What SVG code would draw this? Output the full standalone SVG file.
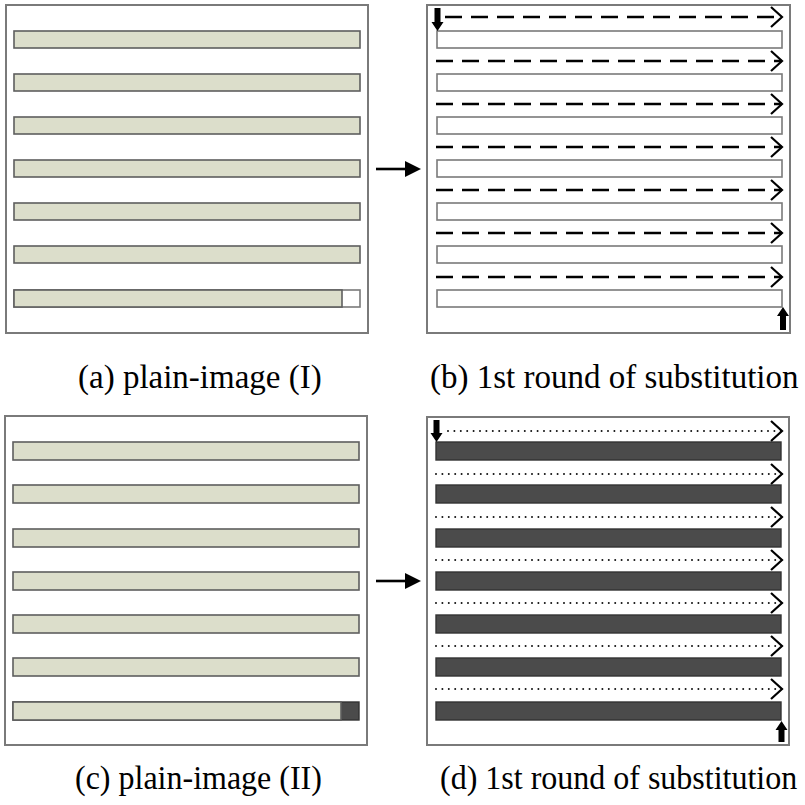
<svg xmlns="http://www.w3.org/2000/svg" width="805" height="805" viewBox="0 0 805 805">
<style>
.frame{fill:#fff;stroke:#7a7a7a;stroke-width:2}
.beige{fill:#dcdecb;stroke:#5e5e5e;stroke-width:1.6}
.white{fill:#fff;stroke:#7a7a7a;stroke-width:1.6}
.dark{fill:#4b4b4b;stroke:#333;stroke-width:1.4}
.dash{stroke:#000;stroke-width:2.6;fill:none;stroke-dasharray:17 9;marker-end:url(#chev)}
.dot{stroke:#111;stroke-width:2;fill:none;stroke-dasharray:0 6.4;stroke-linecap:round;marker-end:url(#chev)}
.blk{fill:#000}
.lbl{font-family:"Liberation Serif","Times New Roman",serif;font-size:33px;fill:#000}
.lbl2{font-family:"Liberation Serif","Times New Roman",serif;font-size:32px;fill:#000}
.arr{stroke:#000;stroke-width:2.6;fill:none}
</style>
<defs>
<marker id="chev" markerUnits="userSpaceOnUse" viewBox="0 0 14 22" refX="12" refY="11" markerWidth="14" markerHeight="22" orient="auto">
<path d="M1,1 L12,11 L1,21" fill="none" stroke="#000" stroke-width="2.2"/>
</marker>
</defs>

<g id="panel-a">
<rect class="frame" x="6" y="5" width="362" height="328"/>
<rect class="beige" x="14" y="31" width="346" height="17"/>
<rect class="beige" x="14" y="74" width="346" height="17"/>
<rect class="beige" x="14" y="117" width="346" height="17"/>
<rect class="beige" x="14" y="160" width="346" height="17"/>
<rect class="beige" x="14" y="203" width="346" height="17"/>
<rect class="beige" x="14" y="246" width="346" height="17"/>
<rect class="white" x="14" y="290" width="346" height="17"/>
<rect class="beige" x="14" y="290" width="328" height="17"/>
</g>

<g id="panel-b">
<rect class="frame" x="427" y="5" width="363" height="328"/>
<rect class="white" x="437" y="31" width="345" height="17"/>
<rect class="white" x="437" y="74" width="345" height="17"/>
<rect class="white" x="437" y="117" width="345" height="17"/>
<rect class="white" x="437" y="160" width="345" height="17"/>
<rect class="white" x="437" y="203" width="345" height="17"/>
<rect class="white" x="437" y="246" width="345" height="17"/>
<rect class="white" x="437" y="290" width="345" height="17"/>
</g>

<g id="panel-c">
<rect class="frame" x="5" y="416" width="362" height="329"/>
<rect class="beige" x="13" y="442" width="346" height="18"/>
<rect class="beige" x="13" y="485" width="346" height="18"/>
<rect class="beige" x="13" y="529" width="346" height="18"/>
<rect class="beige" x="13" y="572" width="346" height="18"/>
<rect class="beige" x="13" y="615" width="346" height="18"/>
<rect class="beige" x="13" y="658" width="346" height="18"/>
<rect class="dark" x="13" y="702" width="346" height="18"/>
<rect class="beige" x="13" y="702" width="328" height="18"/>
</g>

<g id="panel-d">
<rect class="frame" x="427" y="417" width="362" height="328"/>
<rect class="dark" x="436" y="442" width="345" height="18"/>
<rect class="dark" x="436" y="485" width="345" height="18"/>
<rect class="dark" x="436" y="529" width="345" height="18"/>
<rect class="dark" x="436" y="572" width="345" height="18"/>
<rect class="dark" x="436" y="615" width="345" height="18"/>
<rect class="dark" x="436" y="658" width="345" height="18"/>
<rect class="dark" x="436" y="702" width="345" height="18"/>
</g>

<g id="connectors">
<line class="arr" x1="376" y1="169" x2="408" y2="169"/>
<polygon class="blk" points="405,161 421,169 405,177"/>
<line class="arr" x1="376" y1="581" x2="408" y2="581"/>
<polygon class="blk" points="405,573 421,581 405,589"/>

<line class="dash" x1="445" y1="17" x2="782" y2="17"/>
<line class="dash" x1="436" y1="61" x2="782" y2="61"/>
<line class="dash" x1="436" y1="104" x2="782" y2="104"/>
<line class="dash" x1="436" y1="147" x2="782" y2="147"/>
<line class="dash" x1="436" y1="190" x2="782" y2="190"/>
<line class="dash" x1="436" y1="233" x2="782" y2="233"/>
<line class="dash" x1="436" y1="277" x2="782" y2="277"/>
<path class="blk" d="M434.5,8 H440.5 V22 H443.5 L437.5,31 L431.5,22 H434.5 Z"/>
<path class="blk" d="M780,330 H786 V316 H789 L783,307 L777,316 H780 Z"/>

<line class="dot" x1="448" y1="431" x2="782" y2="431"/>
<line class="dot" x1="436" y1="474" x2="782" y2="474"/>
<line class="dot" x1="436" y1="517" x2="782" y2="517"/>
<line class="dot" x1="436" y1="560" x2="782" y2="560"/>
<line class="dot" x1="436" y1="603" x2="782" y2="603"/>
<line class="dot" x1="436" y1="646" x2="782" y2="646"/>
<line class="dot" x1="436" y1="689" x2="782" y2="689"/>
<path class="blk" d="M433.5,420 H439.5 V433 H442.5 L436.5,442 L430.5,433 H433.5 Z"/>
<path class="blk" d="M778.5,742 H784.5 V730 H787.5 L781.5,721 L775.5,730 H778.5 Z"/>
</g>

<g id="labels">
<text class="lbl" x="78" y="388">(a) plain-image (I)</text>
<text class="lbl" x="430" y="388">(b) 1st round of substitution</text>
<text class="lbl2" transform="translate(75,789) scale(1,1.08)">(c) plain-image (II)</text>
<text class="lbl2" transform="translate(440,789) scale(1,1.08)">(d) 1st round of substitution</text>
</g>
</svg>
